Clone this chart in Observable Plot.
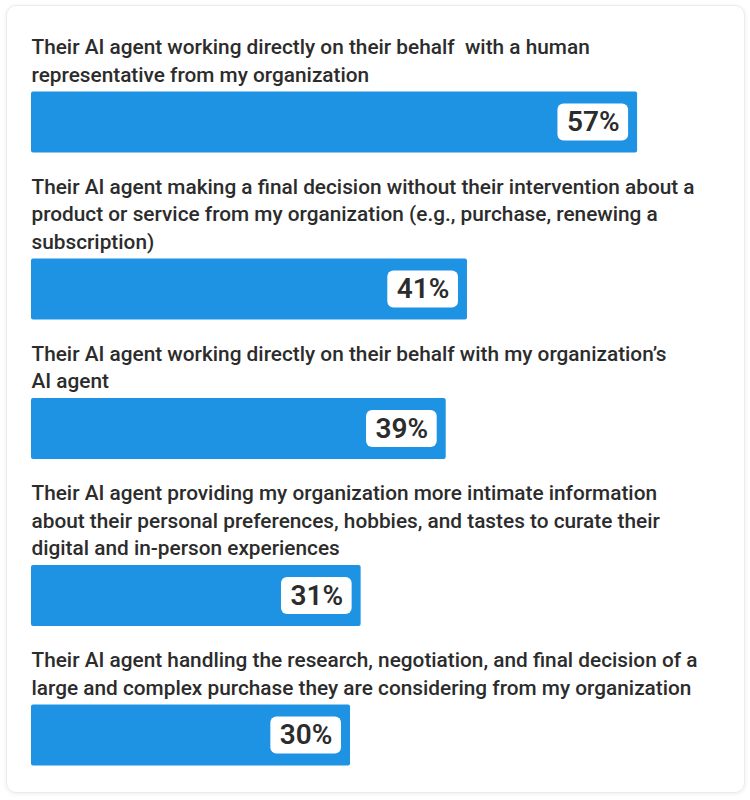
<!DOCTYPE html>
<html>
<head>
<meta charset="utf-8">
<script src="https://cdn.jsdelivr.net/npm/d3@7"></script>
<script src="https://cdn.jsdelivr.net/npm/@observablehq/plot@0.6"></script>
<style>
  html, body { margin: 0; padding: 0; background: #fff; }
  #wrap { position: relative; width: 750px; height: 800px; }
  #card { position: absolute; left: 6px; top: 5px; width: 737px; height: 786px;
          border: 1px solid #ebebeb; border-radius: 10px; background: #fff;
          box-shadow: 0 1px 5px rgba(0,0,0,0.07); }
  #chart { position: absolute; left: 0; top: 0; }
</style>
</head>
<body>
<div id="wrap"><div id="card"></div><div id="chart"></div></div>
<script>
const categories = [
  "Their AI agent working directly on their behalf  with a human\nrepresentative from my organization",
  "Their AI agent making a final decision without their intervention about a\nproduct or service from my organization (e.g., purchase, renewing a\nsubscription)",
  "Their AI agent working directly on their behalf with my organization’s\nAI agent",
  "Their AI agent providing my organization more intimate information\nabout their personal preferences, hobbies, and tastes to curate their\ndigital and in-person experiences",
  "Their AI agent handling the research, negotiation, and final decision of a\nlarge and complex purchase they are considering from my organization"
];
const values = [57, 41, 39, 31, 30];
const valueLabels = values.map(v => v + "%");

// layout (pixels)
const W = 750, H = 800, ML = 31, MR = 81;
const FONT = "Roboto, 'Open Sans', sans-serif";
const fontSize = 20.8, lineH = 27.5, firstLine = 45, textToBar = 19, barH = 61, barToNext = 32;
const xMax = 60;
const k = (W - ML - MR) / xMax;

const ctx = document.createElement("canvas").getContext("2d");
ctx.font = `600 28px ${FONT}`;

let rowTop = firstLine;
const rows = categories.map((c, i) => {
  const n = c.split("\n").length;
  const textMid = rowTop + (n - 1) * lineH / 2;
  const y1 = rowTop + (n - 1) * lineH + textToBar;
  const y2 = y1 + barH;
  const row = {label: c, value: values[i], text: valueLabels[i], textMid, y1, y2,
               tw: ctx.measureText(valueLabels[i]).width};
  rowTop = y2 + barToNext;
  return row;
});

const pad = 9, gap = 9;
const plot = Plot.plot({
  width: W, height: H,
  marginLeft: ML, marginRight: MR, marginTop: 0, marginBottom: 0,
  style: {background: "transparent", fontFamily: FONT},
  x: {domain: [0, xMax], axis: null},
  y: {domain: [0, H], range: [0, H], axis: null},
  marks: [
    Plot.text(rows, {x: 0, y: "textMid", text: "label", textAnchor: "start", lineAnchor: "middle",
      fontSize, fontWeight: 500, fill: "#2c2c2c", lineHeight: lineH / fontSize}),
    Plot.rect(rows, {x1: 0, x2: "value", y1: "y1", y2: "y2", fill: "#1e93e3", rx: 2}),
    Plot.rect(rows, {
      x1: d => d.value - (gap + d.tw + 2 * pad) / k, x2: d => d.value - gap / k,
      y1: d => d.y1 + 12, y2: d => d.y2 - 12, fill: "#fff", rx: 6,
      style: {filter: "drop-shadow(0 1px 2px rgba(0,0,0,0.25))"}}),
    Plot.text(rows, {x: d => d.value - (gap + pad + d.tw / 2) / k, y: d => (d.y1 + d.y2) / 2,
      text: "text", fontSize: 28, fontWeight: 600, fill: "#2c2c2c"})
  ]
});
document.getElementById("chart").appendChild(plot);
</script>
</body>
</html>
